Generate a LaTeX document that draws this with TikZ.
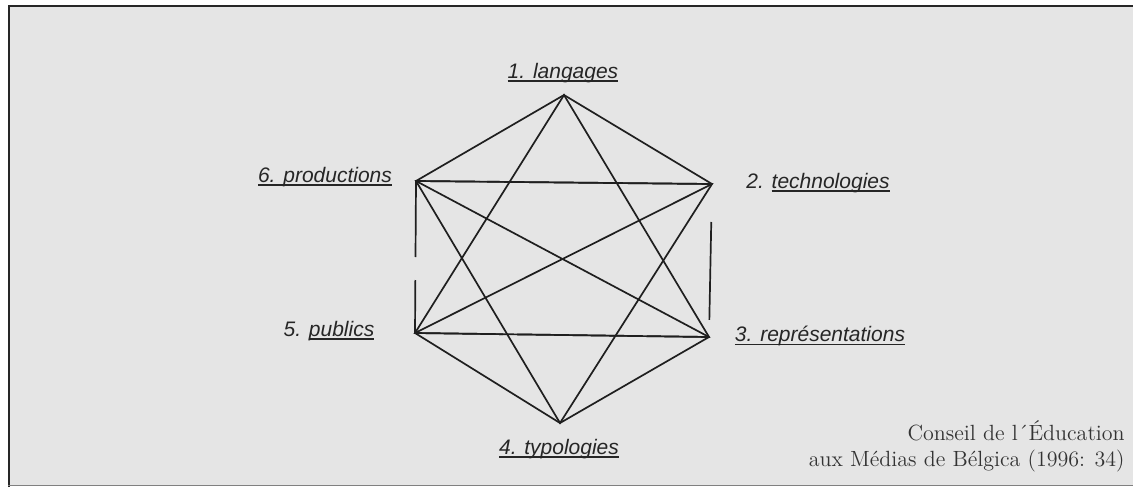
\documentclass[tikz,border=0pt]{standalone}
\usepackage{fontspec}
\newfontfamily\labelfont{Liberation Sans}
\usetikzlibrary{positioning}

% underline that sits just under the baseline, as in the scan
\newcommand{\lineunder}[1]{{\setbox0\hbox{#1}\rlap{\rule[-1.6pt]{\wd0}{0.6pt}}\box0}}

\begin{document}
\begin{tikzpicture}[x=0.5pt, y=-0.5pt,
    edge/.style={line width=0.85pt, draw=black!88},
    vlabel/.style={font=\labelfont\itshape\fontsize{10.5}{12}\selectfont, text=black!85, inner sep=0pt},
    source/.style={font=\fontsize{11}{13}\selectfont, text=black!80, inner sep=0pt, anchor=base east}]

    % Page and frame
    \useasboundingbox (0,0) rectangle (1133,487);
    \fill[white] (0,0) rectangle (1133,487);
    \fill[black!10] (8,5) rectangle (1133,486);
    \draw[line width=1pt, black!85] (9,487) -- (9,6) -- (1133,6);
    \draw[line width=0.5pt, black!50] (8,485.5) -- (1133,485.5);

    % Corners of the hexagon
    \coordinate (v1) at (564,95);
    \coordinate (v2) at (712,184);
    \coordinate (v3) at (709,337);
    \coordinate (v4) at (560,423);
    \coordinate (v5) at (415,333);
    \coordinate (v6) at (416,181);

    % Labels
    \node[vlabel] (l1) at (563,73) {\lineunder{1. langages}};
    \node[vlabel] (l2) at (818,183) {2. \lineunder{technologies}};
    \node[vlabel] (l3) at (820,336) {\lineunder{3. représentations}};
    \node[vlabel] (l4) at (559,449) {\lineunder{4. typologies}};
    \node[vlabel] (l5) at (329,331) {5. \lineunder{publics}};
    \node[vlabel] (l6) at (325,177) {\lineunder{6. productions}};

    % Outer sides
    \draw[edge] (v6) -- (v1) -- (v2);
    \draw[edge] (v5) -- (v4) -- (v3);
    \draw[edge, dash pattern=on 38pt off 11.5pt on 60pt] (v6) -- (v5);
    \draw[edge, dash pattern=on 0pt off 19pt on 49pt off 30pt] (v2) -- (v3);

    % Two triangles
    \draw[edge] (v1) -- (v3) -- (v5) -- cycle;
    \draw[edge] (v2) -- (v4) -- (v6) -- cycle;

    % Remaining links
    \draw[edge, dash pattern=on 32pt off 3.5pt on 120pt] (v6) -- (v2);
    \draw[edge, dash pattern=on 44pt off 7pt on 63pt off 2pt on 60pt] (v5) -- (v3);
    \draw[edge] (v6) -- (v3);
    \draw[edge] (v5) -- (v2);

    % Source
    \node[source] (cap1) at (1125,440) {Conseil de l´Éducation};
    \node[source] (cap2) at (1125,466) {aux Médias de Bélgica (1996: 34)};
\end{tikzpicture}
\end{document}
